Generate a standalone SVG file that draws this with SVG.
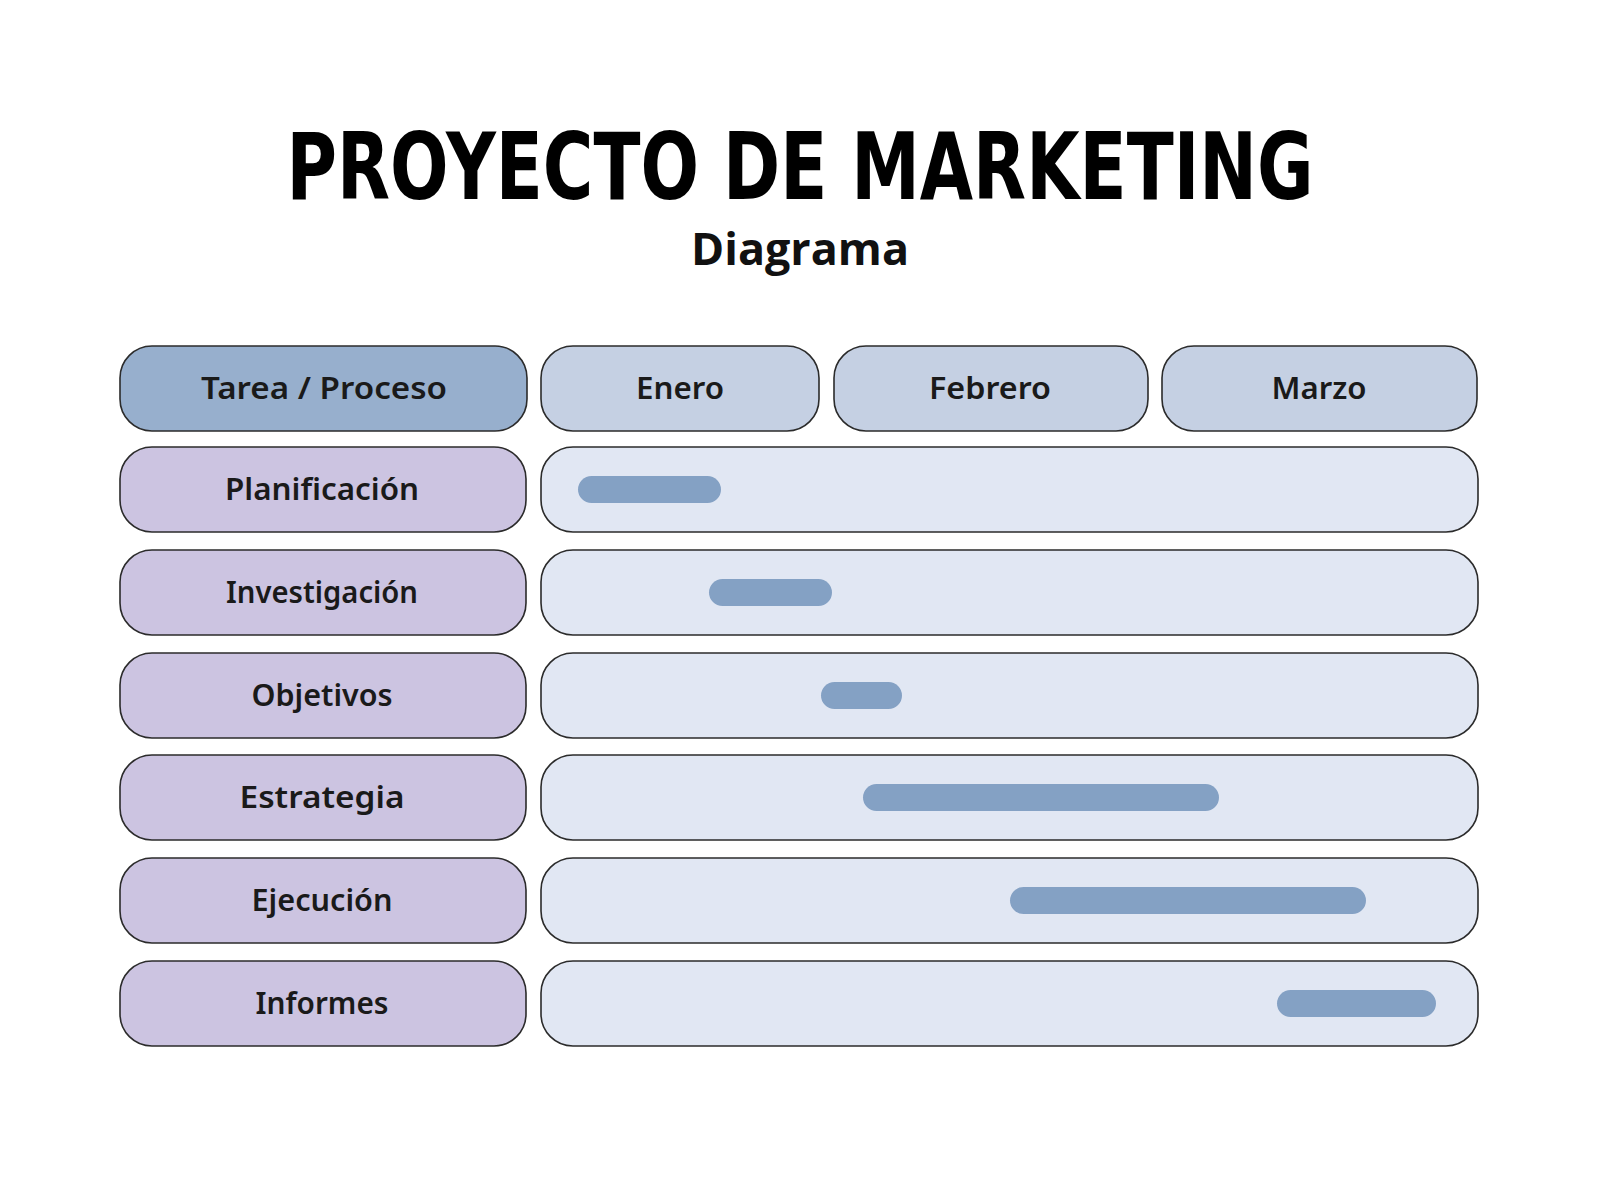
<svg xmlns="http://www.w3.org/2000/svg" width="1600" height="1200" viewBox="0 0 1600 1200">
<style>
.box{stroke:#2b2b2b;stroke-width:1.6}
.hdr{fill:#97AFCD}
.mon{fill:#C5D0E3}
.lbl{fill:#CCC4E1}
.row{fill:#E1E7F3}
.bar{fill:#84A1C4}
.t{font-family:"Noto Sans","DejaVu Sans",sans-serif;font-size:31px;font-weight:600;fill:#1a1a1a;text-anchor:middle}
</style>
<rect width="1600" height="1200" fill="#ffffff"/>
<g id="title">
<text x="800" y="199" font-family="'DejaVu Sans Condensed','DejaVu Sans',sans-serif" font-weight="bold" font-size="92" text-anchor="middle" textLength="1027" lengthAdjust="spacingAndGlyphs" fill="#000">PROYECTO DE MARKETING</text>
<text x="800" y="265" font-family="'Open Sans',sans-serif" font-weight="bold" font-size="44" text-anchor="middle" textLength="218" lengthAdjust="spacingAndGlyphs" fill="#111">Diagrama</text>
</g>
<g id="header-tarea"><rect class="box hdr" x="120" y="346" width="407" height="85" rx="32"/><text class="t" x="324" y="399" textLength="246" lengthAdjust="spacingAndGlyphs">Tarea / Proceso</text></g>
<g id="header-enero"><rect class="box mon" x="541" y="346" width="278" height="85" rx="32"/><text class="t" x="680" y="399" textLength="88" lengthAdjust="spacingAndGlyphs">Enero</text></g>
<g id="header-febrero"><rect class="box mon" x="834" y="346" width="314" height="85" rx="32"/><text class="t" x="990" y="399" textLength="122" lengthAdjust="spacingAndGlyphs">Febrero</text></g>
<g id="header-marzo"><rect class="box mon" x="1162" y="346" width="315" height="85" rx="32"/><text class="t" x="1319" y="399" textLength="95" lengthAdjust="spacingAndGlyphs">Marzo</text></g>

<g id="task-planificacion"><rect class="box lbl" x="120" y="447" width="406" height="85" rx="32"/><text class="t" x="322" y="500" textLength="194" lengthAdjust="spacingAndGlyphs">Planificación</text></g>
<g id="timeline-planificacion"><rect class="box row" x="541" y="447" width="937" height="85" rx="32"/><rect class="bar" x="578" y="476" width="143" height="27" rx="13.5"/></g>

<g id="task-investigacion"><rect class="box lbl" x="120" y="550" width="406" height="85" rx="32"/><text class="t" x="322" y="603" textLength="192" lengthAdjust="spacingAndGlyphs">Investigación</text></g>
<g id="timeline-investigacion"><rect class="box row" x="541" y="550" width="937" height="85" rx="32"/><rect class="bar" x="709" y="579" width="123" height="27" rx="13.5"/></g>

<g id="task-objetivos"><rect class="box lbl" x="120" y="653" width="406" height="85" rx="32"/><text class="t" x="322" y="706" textLength="141" lengthAdjust="spacingAndGlyphs">Objetivos</text></g>
<g id="timeline-objetivos"><rect class="box row" x="541" y="653" width="937" height="85" rx="32"/><rect class="bar" x="821" y="682" width="81" height="27" rx="13.5"/></g>

<g id="task-estrategia"><rect class="box lbl" x="120" y="755" width="406" height="85" rx="32"/><text class="t" x="322" y="808" textLength="165" lengthAdjust="spacingAndGlyphs">Estrategia</text></g>
<g id="timeline-estrategia"><rect class="box row" x="541" y="755" width="937" height="85" rx="32"/><rect class="bar" x="863" y="784" width="356" height="27" rx="13.5"/></g>

<g id="task-ejecucion"><rect class="box lbl" x="120" y="858" width="406" height="85" rx="32"/><text class="t" x="322" y="911" textLength="141" lengthAdjust="spacingAndGlyphs">Ejecución</text></g>
<g id="timeline-ejecucion"><rect class="box row" x="541" y="858" width="937" height="85" rx="32"/><rect class="bar" x="1010" y="887" width="356" height="27" rx="13.5"/></g>

<g id="task-informes"><rect class="box lbl" x="120" y="961" width="406" height="85" rx="32"/><text class="t" x="322" y="1014" textLength="133" lengthAdjust="spacingAndGlyphs">Informes</text></g>
<g id="timeline-informes"><rect class="box row" x="541" y="961" width="937" height="85" rx="32"/><rect class="bar" x="1277" y="990" width="159" height="27" rx="13.5"/></g>
<g id="connectors"/>
</svg>
